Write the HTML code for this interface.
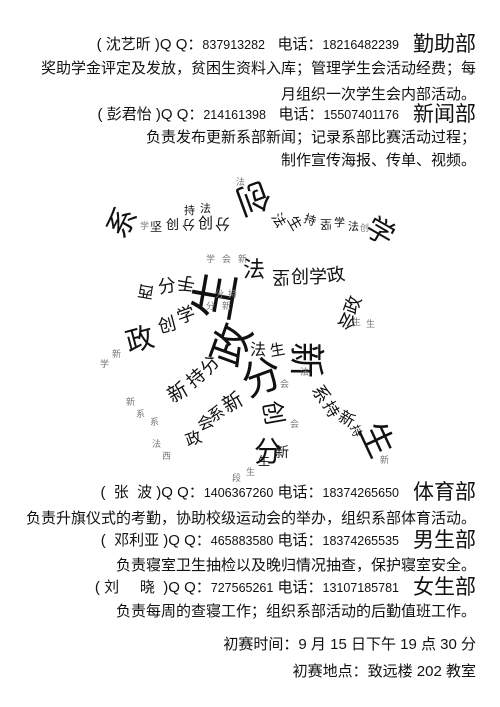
<!DOCTYPE html>
<html><head><meta charset="utf-8">
<style>
html,body{margin:0;padding:0;background:#fff;}
body{width:500px;height:707px;position:relative;overflow:hidden;font-family:"Liberation Sans","Noto Sans CJK SC",sans-serif;color:#111;}
.ln{position:absolute;right:24px;white-space:nowrap;font-size:15px;line-height:18px;}
.ln .num{font-size:12.5px;}
.ln .dept{font-size:21px;margin-left:14px;vertical-align:-2px;}
.w{position:absolute;white-space:nowrap;line-height:1;transform-origin:center center;}
.g{color:#777;}
</style></head>
<body>
<div class="ln" style="top:36px">( 沈艺昕 )Q Q：<span class="num">837913282</span>&nbsp;&nbsp; 电话：<span class="num">18216482239</span><span class="dept">勤助部</span></div>
<div class="ln" style="top:60px">奖助学金评定及发放，贫困生资料入库；管理学生会活动经费；每</div>
<div class="ln" style="top:86px">月组织一次学生会内部活动。</div>
<div class="ln" style="top:106px">( 彭君怡 )Q Q：<span class="num">214161398</span>&nbsp;&nbsp; 电话：<span class="num">15507401176</span><span class="dept">新闻部</span></div>
<div class="ln" style="top:129px">负责发布更新系部新闻；记录系部比赛活动过程；</div>
<div class="ln" style="top:152px">制作宣传海报、传单、视频。</div>

<div>
<span class="w" style="left:108px;top:208px;font-size:30px;transform:rotate(-60deg)">系</span>
<span class="w" style="left:236px;top:180px;font-size:34px;transform:rotate(160deg)">创</span>
<span class="w" style="left:366px;top:218px;font-size:28px;transform:rotate(30deg)">学</span>
<span class="w" style="left:193px;top:272px;font-size:48px;transform:rotate(-80deg)">生</span>
<span class="w" style="left:211px;top:324px;font-size:42px;transform:rotate(-70deg)">政</span>
<span class="w" style="left:242px;top:358px;font-size:40px;transform:rotate(-20deg)">分</span>
<span class="w" style="left:288px;top:342px;font-size:36px;transform:rotate(90deg)">新</span>
<span class="w" style="left:359px;top:423px;font-size:34px;transform:rotate(65deg)">生</span>
<span class="w" style="left:254px;top:438px;font-size:28px">分</span>
<span class="w" style="left:260px;top:401px;font-size:24px;transform:rotate(80deg)">创</span>
<span class="w" style="left:126px;top:326px;font-size:28px;transform:rotate(-15deg)">政</span>
<span class="w" style="left:158px;top:316px;font-size:18px;transform:rotate(-15deg)">创</span>
<span class="w" style="left:177px;top:306px;font-size:18px;transform:rotate(-20deg)">学</span>
<span class="w" style="left:243px;top:259px;font-size:22px">法</span>
<span class="w" style="left:272px;top:268px;font-size:18px;transform:rotate(180deg)">坚</span>
<span class="w" style="left:291px;top:268px;font-size:18px">创</span>
<span class="w" style="left:309px;top:268px;font-size:18px">学</span>
<span class="w" style="left:327px;top:266px;font-size:18px;transform:rotate(-10deg)">政</span>
<span class="w" style="left:338px;top:312px;font-size:18px;transform:rotate(120deg)">会</span>
<span class="w" style="left:344px;top:296px;font-size:18px;transform:rotate(-70deg)">政</span>
<span class="w" style="left:312px;top:385px;font-size:18px;transform:rotate(60deg)">系</span>
<span class="w" style="left:322px;top:402px;font-size:16px;transform:rotate(60deg)">持</span>
<span class="w" style="left:338px;top:412px;font-size:16px;transform:rotate(30deg)">新</span>
<span class="w" style="left:350px;top:425px;font-size:12px;transform:rotate(70deg)">持</span>
<span class="w" style="left:168px;top:383px;font-size:20px;transform:rotate(-30deg)">新</span>
<span class="w" style="left:187px;top:369px;font-size:18px;transform:rotate(-40deg)">持</span>
<span class="w" style="left:201px;top:356px;font-size:18px;transform:rotate(-50deg)">分</span>
<span class="w" style="left:223px;top:393px;font-size:20px;transform:rotate(-30deg)">新</span>
<span class="w" style="left:209px;top:407px;font-size:16px;transform:rotate(-30deg)">系</span>
<span class="w" style="left:198px;top:416px;font-size:16px;transform:rotate(-20deg)">会</span>
<span class="w" style="left:186px;top:432px;font-size:16px;transform:rotate(-20deg)">政</span>
<span class="w" style="left:138px;top:282px;font-size:16px;transform:rotate(-170deg)">西</span>
<span class="w" style="left:158px;top:277px;font-size:18px;transform:rotate(-10deg)">分</span>
<span class="w" style="left:177px;top:274px;font-size:18px;transform:rotate(-170deg)">手</span>
<span class="w" style="left:250px;top:343px;font-size:16px">法</span>
<span class="w" style="left:270px;top:343px;font-size:15px;transform:rotate(-10deg)">生</span>
<span class="w" style="left:275px;top:445px;font-size:14px">新</span>
<span class="w" style="left:258px;top:455px;font-size:12px">生</span>
<span class="w" style="left:150px;top:221px;font-size:12px">坚</span>
<span class="w" style="left:166px;top:218px;font-size:13px">创</span>
<span class="w" style="left:182px;top:218px;font-size:13px;transform:rotate(180deg)">分</span>
<span class="w" style="left:198px;top:216px;font-size:15px">创</span>
<span class="w" style="left:215px;top:216px;font-size:15px;transform:rotate(180deg)">分</span>
<span class="w" style="left:184px;top:206px;font-size:11px">持</span>
<span class="w" style="left:200px;top:204px;font-size:11px">法</span>
<span class="w" style="left:272px;top:213px;font-size:14px;transform:rotate(60deg)">法</span>
<span class="w" style="left:288px;top:216px;font-size:14px;transform:rotate(60deg)">生</span>
<span class="w" style="left:304px;top:214px;font-size:12px;transform:rotate(20deg)">持</span>
<span class="w" style="left:320px;top:218px;font-size:12px;transform:rotate(180deg)">坚</span>
<span class="w" style="left:334px;top:218px;font-size:11px">学</span>
<span class="w" style="left:348px;top:222px;font-size:11px">法</span>
<span class="w g" style="left:360px;top:224px;font-size:9px">创</span>
<span class="w g" style="left:140px;top:222px;font-size:9px">学</span>
<span class="w g" style="left:236px;top:178px;font-size:9px">法</span>
<span class="w g" style="left:206px;top:255px;font-size:9px">学</span>
<span class="w g" style="left:222px;top:255px;font-size:9px">会</span>
<span class="w g" style="left:238px;top:255px;font-size:9px">新</span>
<span class="w g" style="left:215px;top:290px;font-size:9px">分</span>
<span class="w g" style="left:228px;top:290px;font-size:9px">持</span>
<span class="w g" style="left:206px;top:302px;font-size:9px">分</span>
<span class="w g" style="left:222px;top:302px;font-size:9px">新</span>
<span class="w g" style="left:112px;top:350px;font-size:9px">新</span>
<span class="w g" style="left:100px;top:360px;font-size:9px">学</span>
<span class="w g" style="left:126px;top:398px;font-size:9px">新</span>
<span class="w g" style="left:136px;top:410px;font-size:9px">系</span>
<span class="w g" style="left:150px;top:418px;font-size:9px">系</span>
<span class="w g" style="left:152px;top:440px;font-size:9px">法</span>
<span class="w g" style="left:162px;top:452px;font-size:9px">西</span>
<span class="w g" style="left:246px;top:468px;font-size:9px">生</span>
<span class="w g" style="left:232px;top:474px;font-size:9px">段</span>
<span class="w g" style="left:352px;top:318px;font-size:9px">生</span>
<span class="w g" style="left:366px;top:320px;font-size:9px">生</span>
<span class="w g" style="left:380px;top:456px;font-size:9px">新</span>
<span class="w g" style="left:300px;top:368px;font-size:9px">法</span>
<span class="w g" style="left:280px;top:380px;font-size:9px">会</span>
<span class="w g" style="left:290px;top:420px;font-size:9px">会</span>
</div>

<div class="ln" style="top:484px">(&nbsp; 张&nbsp; 波 )Q Q：<span class="num">1406367260</span> 电话：<span class="num">18374265650</span><span class="dept">体育部</span></div>
<div class="ln" style="top:510px">负责升旗仪式的考勤，协助校级运动会的举办，组织系部体育活动。</div>
<div class="ln" style="top:532px">(&nbsp; 邓利亚 )Q Q：<span class="num">465883580</span> 电话：<span class="num">18374265535</span><span class="dept">男生部</span></div>
<div class="ln" style="top:557px">负责寝室卫生抽检以及晚归情况抽查，保护寝室安全。</div>
<div class="ln" style="top:579px">( 刘&nbsp;&nbsp;&nbsp;&nbsp; 晓&nbsp; )Q Q：<span class="num">727565261</span> 电话：<span class="num">13107185781</span><span class="dept">女生部</span></div>
<div class="ln" style="top:603px">负责每周的查寝工作；组织系部活动的后勤值班工作。</div>
<div class="ln" style="top:636px">初赛时间：9 月 15 日下午 19 点 30 分</div>
<div class="ln" style="top:663px">初赛地点：致远楼 202 教室</div>
</body></html>
